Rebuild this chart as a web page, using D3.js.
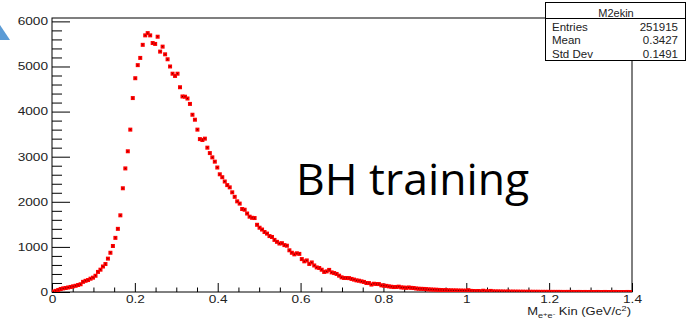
<!DOCTYPE html>
<html>
<head>
<meta charset="utf-8">
<script src="https://cdn.jsdelivr.net/npm/d3@7/dist/d3.min.js"></script>
<style>
  body { margin: 0; background: #fff; }
  svg { display: block; }
</style>
</head>
<body>
<div id="chart"></div>
<script>
// histogram M2ekin, bins of 0.006 GeV/c^2 starting at 0
const binWidth = 0.006;
const counts = [
  10, 25, 45, 67, 80, 89, 100, 112, 126, 138, 155, 172, 225, 248, 265, 295, 318, 360, 445, 495,
  565, 620, 740, 870, 1020, 1200, 1400, 1700, 2300, 2740, 3120, 3600, 4300, 4740, 5030, 5190, 5480, 5690, 5740, 5690,
  5520, 5500, 5660, 5330, 5440, 5270, 5160, 5000, 4840, 4790, 4840, 4540, 4335, 4330, 4290, 4170, 3930, 3820, 3600, 3390,
  3370, 3400, 3200, 3080, 2985, 2890, 2760, 2610, 2545, 2450, 2370, 2320, 2210, 2110, 2010, 1960, 1840, 1824, 1740, 1670,
  1645, 1640, 1490, 1425, 1385, 1330, 1295, 1240, 1220, 1155, 1112, 1075, 1082, 1040, 1026, 925, 870, 835, 858, 845,
  730, 680, 700, 622, 655, 588, 545, 532, 494, 445, 457, 490, 435, 420, 400, 362, 325, 311, 310, 308,
  290, 275, 258, 250, 236, 223, 200, 198, 165, 183, 177, 176, 148, 142, 136, 125, 117, 110, 112, 118,
  102, 98, 92, 100, 92, 88, 78, 72, 70, 68, 64, 58, 55, 52, 50, 47, 44, 42, 40, 38,
  36, 35, 34, 32, 31, 30, 29, 40, 25, 22, 20, 22, 18, 28, 16, 15, 24, 14, 12, 12,
  11, 10, 9, 9, 8, 8, 7, 7, 6, 6, 5, 5, 5, 4, 4, 4, 3, 3, 3, 3,
  2, 2, 2, 2, 2, 1, 1, 2, 1, 1, 0, 1, 1, 0, 1, 0, 1, 0, 0, 1,
  0, 0, 1, 0, 0, 0, 1, 0, 0, 0, 0, 1, 0
];
const xTicks = [0, 0.2, 0.4, 0.6, 0.8, 1, 1.2, 1.4];
const xTickLabels = ["0", "0.2", "0.4", "0.6", "0.8", "1", "1.2", "1.4"];
const yTicks = [0, 1000, 2000, 3000, 4000, 5000, 6000];
const statsTitle = "M2ekin";
const statsNames = ["Entries", "Mean", "Std Dev"];
const statsValues = ["251915", "0.3427", "0.1491"];
const overlayText = "BH training";

const W = 687, H = 321;
const margin = { top: 18, right: 55, bottom: 29, left: 52 };
const width = W - margin.left - margin.right;
const height = H - margin.top - margin.bottom;
const axisFont = "'Liberation Sans', Arial, sans-serif";
const stretchX = 1.3;

const svg = d3.select("#chart").append("svg")
  .attr("width", W)
  .attr("height", H);

// slide decoration in the corner
svg.append("path")
  .attr("d", "M0,25 L10,40 L0,40 Z")
  .attr("fill", "#5b9bd5");

const x = d3.scaleLinear().domain([0, 1.4]).range([0, width]);
const y = d3.scaleLinear().domain([0, 6075]).range([height, 0]);

const g = svg.append("g")
  .attr("transform", `translate(${margin.left},${margin.top})`);

// text in the ROOT canvas comes out wider than normal
const stretch = (sel) => {
  sel.each(function () {
    const t = d3.select(this);
    const tx = +t.attr("x") || 0;
    const ty = +t.attr("y") || 0;
    t.attr("x", 0).attr("y", 0)
      .attr("transform", `translate(${tx},${ty}) scale(${stretchX},1)`);
  });
};

const styleAxis = (a) => {
  a.select(".domain").remove();
  a.selectAll("line").attr("stroke", "#000");
  a.selectAll("text")
    .attr("font-family", axisFont)
    .attr("font-size", "10.5px")
    .attr("fill", "#222");
};

// x axis, major + minor ticks pointing up
g.append("g")
  .attr("transform", `translate(0,${height})`)
  .call(d3.axisBottom(x).tickValues(xTicks).tickFormat((d, i) => xTickLabels[i]).tickSize(-9).tickPadding(4))
  .call(styleAxis)
  .call(a => a.selectAll("text").call(stretch));

const xMinor = d3.range(0, 1.4001, 0.05).filter(v => Math.abs(v / 0.2 - Math.round(v / 0.2)) > 1e-6);
g.append("g")
  .attr("transform", `translate(0,${height})`)
  .call(d3.axisBottom(x).tickValues(xMinor).tickFormat("").tickSize(-4.5))
  .call(styleAxis);

// y axis, ticks pointing right
g.append("g")
  .call(d3.axisLeft(y).tickValues(yTicks).tickFormat(d3.format("d")).tickSize(-18).tickPadding(4))
  .call(styleAxis)
  .call(a => a.selectAll("text").call(stretch));

const yMinor = d3.range(0, 6075, 200).filter(v => v % 1000 !== 0);
g.append("g")
  .call(d3.axisLeft(y).tickValues(yMinor).tickFormat("").tickSize(-10))
  .call(styleAxis);

// frame
g.append("rect")
  .attr("x", 0).attr("y", 0)
  .attr("width", width).attr("height", height)
  .attr("fill", "none")
  .attr("stroke", "#000")
  .attr("stroke-width", 1);

// markers, clipped to the frame like ROOT does
svg.append("defs").append("clipPath").attr("id", "frame")
  .append("rect").attr("width", width).attr("height", height);

const pts = g.append("g").attr("clip-path", "url(#frame)");
const binCenter = (i) => x((i + 0.5) * binWidth);

pts.selectAll("rect.pt")
  .data(counts)
  .join("rect")
  .attr("class", "pt")
  .attr("x", (d, i) => binCenter(i) - 2)
  .attr("y", d => y(d) - 2)
  .attr("width", 4)
  .attr("height", 4)
  .attr("fill", "#ff0000");

pts.selectAll("rect.dot")
  .data(counts)
  .join("rect")
  .attr("class", "dot")
  .attr("x", (d, i) => binCenter(i) - 0.5)
  .attr("y", d => y(d) - 0.5)
  .attr("width", 1)
  .attr("height", 1)
  .attr("fill", "#5a0000");

// x axis title  M_{e+e-} Kin (GeV/c^2)
const title = g.append("text")
  .attr("x", width - 1)
  .attr("y", height + 23)
  .attr("text-anchor", "end")
  .attr("font-family", axisFont)
  .attr("font-size", "10px")
  .attr("fill", "#222");
title.append("tspan").text("M");
title.append("tspan").attr("font-size", "7px").attr("dy", 3).text("e");
title.append("tspan").attr("font-size", "6px").attr("dy", -2.5).text("+");
title.append("tspan").attr("font-size", "7px").attr("dy", 2.5).text("e");
title.append("tspan").attr("font-size", "6px").attr("dy", -2.5).text("-");
title.append("tspan").attr("dy", -0.5).text(" Kin (GeV/c");
title.append("tspan").attr("font-size", "7px").attr("dy", -4).text("2");
title.append("tspan").attr("dy", 4).text(")");
title.call(stretch);

// stats box
const box = svg.append("g");
box.append("rect")
  .attr("x", 545.5).attr("y", 2.5)
  .attr("width", 140).attr("height", 58)
  .attr("fill", "#fff")
  .attr("stroke", "#000");
box.append("line")
  .attr("x1", 545.5).attr("x2", 685.5)
  .attr("y1", 18.5).attr("y2", 18.5)
  .attr("stroke", "#000");
box.append("text")
  .attr("x", 616).attr("y", 16.5)
  .attr("text-anchor", "middle")
  .attr("font-family", axisFont)
  .attr("font-size", "11px")
  .attr("fill", "#222")
  .text(statsTitle);
statsNames.forEach((name, i) => {
  box.append("text")
    .attr("x", 552).attr("y", 30.5 + i * 13.7)
    .attr("font-family", axisFont)
    .attr("font-size", "11.5px")
    .attr("fill", "#222")
    .text(name);
  box.append("text")
    .attr("x", 678).attr("y", 30.5 + i * 13.7)
    .attr("text-anchor", "end")
    .attr("font-family", axisFont)
    .attr("font-size", "11.5px")
    .attr("fill", "#222")
    .text(statsValues[i]);
});

// label pasted on the slide
svg.append("text")
  .attr("x", 296)
  .attr("y", 195)
  .attr("font-family", "'Open Sans', sans-serif")
  .attr("font-size", "44.5px")
  .attr("fill", "#000")
  .text(overlayText);
</script>
</body>
</html>
